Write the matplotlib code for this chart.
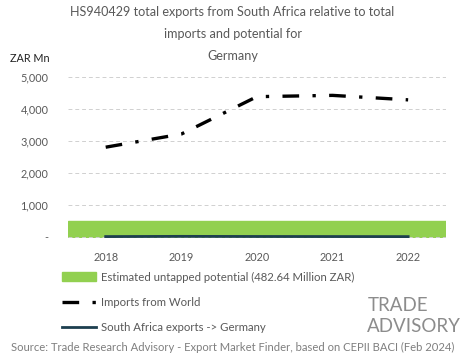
import matplotlib.pyplot as plt
from matplotlib.patches import Patch
from matplotlib.lines import Line2D
from matplotlib.ticker import FuncFormatter

plt.rcParams['font.family'] = ['Lato', 'DejaVu Sans']

years = ['2018', '2019', '2020', '2021', '2022']
imports_world = [2800, 3210, 4380, 4420, 4280]
sa_exports = [5, 12, 8, 6, 4]
untapped = 482.64

grey = '#595959'

fig = plt.figure(figsize=(4.65, 3.59), dpi=100)
ax = fig.add_axes([0.146, 0.337, 0.813, 0.449])

x = list(range(len(years)))
ax.axhspan(0, untapped, color='#92d050', zorder=1)
ax.plot(x, imports_world, color='black', lw=2.4, dashes=(5, 4, 1, 4), zorder=3)
ax.plot(x, sa_exports, color='#1d3f4f', lw=2, zorder=3)

ax.set_xlim(-0.5, 4.5)
ax.set_ylim(-40, 5000)
ax.set_yticks([0, 1000, 2000, 3000, 4000, 5000])
ax.yaxis.set_major_formatter(FuncFormatter(lambda v, p: '-' if v == 0 else '{:,.0f}'.format(v)))
ax.set_xticks(x)
ax.set_xticklabels(years)
ax.tick_params(length=0, labelsize=7.8, colors=grey, pad=10)
ax.tick_params(axis='y', pad=14)
ax.grid(axis='y', color='#d0d0d0', ls=(0, (4, 3)), lw=0.7, zorder=0)
for s in ax.spines.values():
    s.set_visible(False)

fig.text(0.022, 0.828, 'ZAR Mn', fontsize=7.8, color='#222222')

fig.text(0.5, 0.956, 'HS940429 total exports from South Africa relative to total',
         ha='center', fontsize=9.1, color=grey)
fig.text(0.5, 0.894, 'imports and potential for', ha='center', fontsize=9.1, color=grey)
fig.text(0.5, 0.832, 'Germany', ha='center', fontsize=9.1, color=grey)

handles = [Patch(color='#92d050'),
           Line2D([], [], color='black', lw=2.4, dashes=(5, 4, 1, 4)),
           Line2D([], [], color='#1d3f4f', lw=2)]
labels = ['Estimated untapped potential (482.64 Million ZAR)',
          'Imports from World',
          'South Africa exports -> Germany']
leg = fig.legend(handles, labels, loc='upper left', bbox_to_anchor=(0.133, 0.243),
                 frameon=False, fontsize=8.2, labelspacing=1.25, handlelength=3.0,
                 handleheight=0.8, handletextpad=0.4, borderaxespad=0, borderpad=0)
for t in leg.get_texts():
    t.set_color(grey)

fig.text(0.79, 0.135, 'TRADE', ha='left', fontsize=13.5, color='#8c8c8c')
fig.text(0.79, 0.075, 'ADVISORY', ha='left', fontsize=13.5, color='#8c8c8c')

fig.text(0.5, 0.022, 'Source: Trade Research Advisory - Export Market Finder, based on CEPII BACI (Feb 2024)',
         ha='center', fontsize=8.1, color='#7f7f7f')

fig.savefig('out.png', dpi=100)
